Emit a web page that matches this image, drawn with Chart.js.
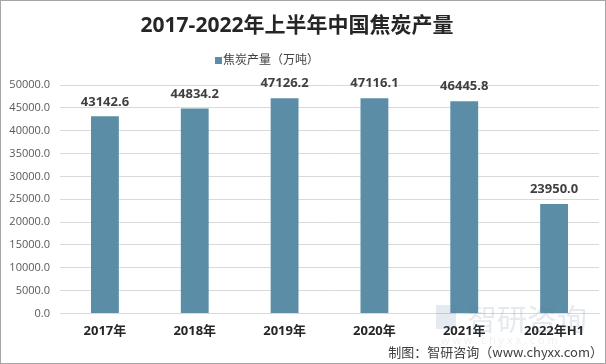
<!DOCTYPE html>
<html><head><meta charset="utf-8">
<script src="https://cdn.jsdelivr.net/npm/chart.js@4"></script>
<style>
html,body{margin:0;padding:0;background:#fff;}
#wrap{position:relative;width:606px;height:364px;box-sizing:border-box;border:1px solid #a6a6a6;}
canvas{display:block;}
</style></head><body>
<div id="wrap"><canvas id="c" width="604" height="362"></canvas></div>
<script>
const categories = ["2017年","2018年","2019年","2020年","2021年","2022年H1"];
const values = [43142.6, 44834.2, 47126.2, 47116.1, 46445.8, 23950.0];
const yTicks = [0,5000,10000,15000,20000,25000,30000,35000,40000,45000,50000];
const seriesName = "焦炭产量（万吨）";
const titleText = "2017-2022年上半年中国焦炭产量";
const footerText = "制图：智研咨询（www.chyxx.com）";

const FONT = "'Open Sans','Noto Sans CJK SC',sans-serif";
const BAR = "#5b8ea6";

const overlay = {
  id:'overlay',
  afterDatasetsDraw(chart){
    const ctx = chart.ctx;
    const meta = chart.getDatasetMeta(0);
    ctx.save();
    ctx.fillStyle = '#404040';
    ctx.font = "bold 13px " + FONT;
    ctx.textAlign = 'center';
    ctx.textBaseline = 'bottom';
    meta.data.forEach((b,i)=>{
      ctx.fillText(values[i].toFixed(1), b.x, b.y - 8);
    });
    // title
    ctx.fillStyle = '#262626';
    ctx.font = "bold 21px " + FONT;
    ctx.textBaseline = 'middle';
    ctx.fillText(titleText, 296, 25);
    // legend
    ctx.fillStyle = BAR;
    ctx.fillRect(214, 56, 7, 7);
    ctx.fillStyle = '#404040';
    ctx.font = "12px " + FONT;
    ctx.textAlign = 'left';
    ctx.fillText(seriesName, 222, 60);
    // watermark
    ctx.globalAlpha = 0.16;
    ctx.fillStyle = '#5a7fa0';
    ctx.font = "30px 'Noto Sans CJK SC',sans-serif";
    ctx.fillText("智研咨询", 466, 318);
    ctx.font = "11px " + FONT;
    ctx.fillStyle = '#8899aa';
    ctx.fillText("w w w . c h y x x . c o m", 440, 340);
    ctx.fillStyle = '#5a7fa0';
    ctx.fillRect(435, 304, 20, 24);
    ctx.globalAlpha = 1;
    // footer
    ctx.fillStyle = '#404040';
    ctx.font = "13px 'Noto Sans CJK SC',sans-serif";
    ctx.textAlign = 'right';
    ctx.fillText(footerText, 602, 351);
    ctx.restore();
  }
};

new Chart(document.getElementById('c'), {
  type:'bar',
  data:{labels:categories, datasets:[{label:seriesName, data:values, backgroundColor:BAR, barPercentage:0.31, categoryPercentage:1.0}]},
  options:{
    responsive:false, animation:false,
    layout:{padding:{top:84,right:6,left:0,bottom:14}},
    plugins:{legend:{display:false}, title:{display:false}, tooltip:{enabled:false}},
    scales:{
      x:{
        grid:{display:false, drawTicks:false},
        border:{display:true,color:'#d9d9d9'},
        ticks:{color:'#262626', font:{family:FONT, size:13, weight:'bold'}, padding:10}
      },
      y:{
        min:0, max:50000,
        afterBuildTicks(s){ s.ticks = yTicks.map(v=>({value:v})); },
        afterFit(s){ s.width = 59; },
        grid:{color:'#d9d9d9', drawTicks:false},
        border:{display:false},
        ticks:{color:'#595959', font:{family:FONT, size:11}, padding:10, callback:v=>Number(v).toFixed(1)}
      }
    }
  },
  plugins:[overlay]
});
</script>
</body></html>
